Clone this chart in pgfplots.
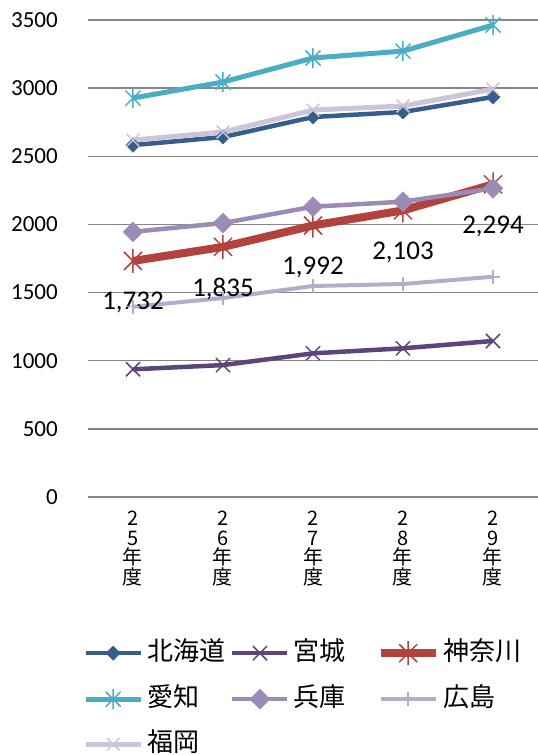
\documentclass[border=0pt]{standalone}
\usepackage{pgfplots}
\pgfplotsset{compat=1.18}
\usepackage{fontspec}
\setmainfont{Carlito}
\newfontfamily\jp{Noto Sans CJK JP}
\definecolor{cA}{HTML}{355E8D}
\definecolor{cB}{HTML}{5C457A}
\definecolor{cC}{HTML}{B2423E}
\definecolor{cD}{HTML}{4BACC6}
\definecolor{cE}{HTML}{9D8BB7}
\definecolor{cF}{HTML}{B7AACB}
\definecolor{cG}{HTML}{CCC5D9}
\definecolor{gridc}{HTML}{868686}
\pgfdeclareplotmark{xstar}{%
  \pgfpathmoveto{\pgfqpoint{0pt}{\pgfplotmarksize}}%
  \pgfpathlineto{\pgfqpoint{0pt}{-\pgfplotmarksize}}%
  \pgfpathmoveto{\pgfqpoint{-.75\pgfplotmarksize}{-.75\pgfplotmarksize}}%
  \pgfpathlineto{\pgfqpoint{.75\pgfplotmarksize}{.75\pgfplotmarksize}}%
  \pgfpathmoveto{\pgfqpoint{-.75\pgfplotmarksize}{.75\pgfplotmarksize}}%
  \pgfpathlineto{\pgfqpoint{.75\pgfplotmarksize}{-.75\pgfplotmarksize}}%
  \pgfusepathqstroke}
\newcommand{\lt}[1]{\makebox[87bp][l]{\hskip4bp\jp\fontsize{26bp}{30bp}\selectfont #1}}
\begin{document}
\begin{tikzpicture}
\path[use as bounding box] (-88bp,-258bp) rectangle (450bp,497bp);
\begin{axis}[
  scale only axis, width=450bp, height=477bp,
  xmin=-0.5, xmax=4.5, ymin=0, ymax=3500,
  ytick distance=500,
  xtick={0,1,2,3,4},
  xticklabels={{2\\5\\年\\度},{2\\6\\年\\度},{2\\7\\年\\度},{2\\8\\年\\度},{2\\9\\年\\度}},
  xticklabel style={align=center, inner sep=0pt, yshift=-14bp, font={\jp\fontsize{20bp}{19.5bp}\selectfont}},
  yticklabel style={inner sep=0pt, xshift=-30bp, font={\fontsize{23bp}{26bp}\selectfont}, /pgf/number format/1000 sep={}},
  /pgf/number format/assume math mode=true,
  axis line style={draw=none},
  major tick length=0pt,
  ymajorgrids, grid style={gridc, line width=1.5bp},
  clip=false,
  legend columns=3,
  legend style={draw=none, fill=none, inner sep=0pt, at={(-0.0111,-0.3019)}, anchor=north west,
    cells={anchor=west}, nodes={inner sep=0pt, text height=18bp, text depth=4bp}, row sep=23bp, column sep=0pt},
  legend image code/.code={\draw[mark repeat=2,mark phase=2,#1] plot coordinates {(0bp,0bp) (27.5bp,0bp) (55bp,0bp)};},
]
\addplot[cA, line width=4.5bp, mark=square*, mark options={rotate=45, solid, line width=0.5bp}, mark size=5bp]
  coordinates {(0,2582) (1,2641) (2,2788) (3,2825) (4,2935)};
\addlegendentry{\lt{北海道}}
\addplot[cB, line width=4.5bp, mark=x, mark options={solid, line width=1.5bp}, mark size=10bp]
  coordinates {(0,937) (1,968) (2,1054) (3,1091) (4,1145)};
\addlegendentry{\lt{宮城}}
\addplot[cC, line width=8bp, mark=xstar, mark options={solid, line width=1.5bp}, mark size=12bp,
  nodes near coords={\pgfmathprintnumber[1000 sep={,}]{\pgfplotspointmeta}},
  every node near coord/.append style={black, anchor=center, yshift=-42bp, font={\fontsize{27bp}{30bp}\selectfont}}]
  coordinates {(0,1732) (1,1835) (2,1992) (3,2103) (4,2294)};
\addlegendentry{\lt{神奈川}}
\addplot[cD, line width=5bp, mark=xstar, mark options={solid, line width=1.5bp}, mark size=10bp]
  coordinates {(0,2927) (1,3045) (2,3221) (3,3272) (4,3463)};
\addlegendentry{\lt{愛知}}
\addplot[cE, line width=4.5bp, mark=square*, mark options={rotate=45, solid, line width=0.5bp}, mark size=7bp]
  coordinates {(0,1946) (1,2010) (2,2130) (3,2167) (4,2265)};
\addlegendentry{\lt{兵庫}}
\addplot[cF, line width=4bp, mark=+, mark options={solid, line width=1.5bp}, mark size=7bp]
  coordinates {(0,1396) (1,1460) (2,1548) (3,1563) (4,1616)};
\addlegendentry{\lt{広島}}
\addplot[cG, line width=5bp, mark=x, mark options={solid, line width=1.5bp}, mark size=9bp]
  coordinates {(0,2619) (1,2678) (2,2839) (3,2869) (4,2993)};
\addlegendentry{\lt{福岡}}
\end{axis}
\end{tikzpicture}
\end{document}
